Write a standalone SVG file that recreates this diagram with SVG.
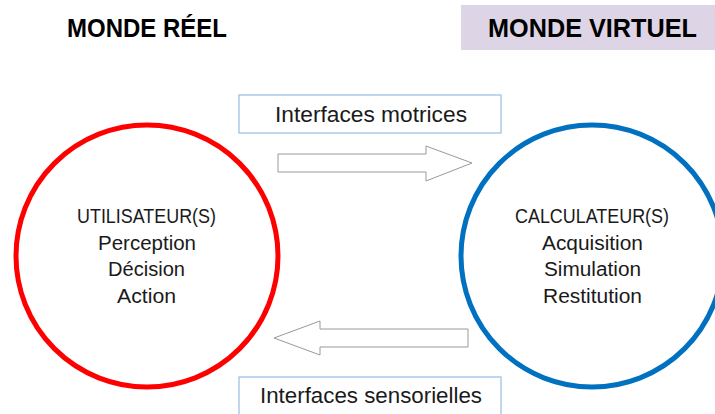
<svg xmlns="http://www.w3.org/2000/svg" width="715" height="414" viewBox="0 0 715 414">
<style>
.title{font-family:"Liberation Sans",Arial,sans-serif;font-weight:bold;font-size:25px;fill:#000}
.lbl{font-family:"Liberation Sans",Arial,sans-serif;font-size:19.5px;fill:#1a1a1a;text-anchor:middle}
.box{fill:#fff;stroke:#9dc3e6;stroke-width:1.3}
.boxt{font-family:"Liberation Sans",Arial,sans-serif;font-size:21.5px;fill:#1a1a1a}
.arrow{fill:#fff;stroke:#999;stroke-width:1}
</style>
<rect width="715" height="414" fill="#fff"/>
<g id="title-reel">
<text class="title" x="67" y="37" textLength="160" lengthAdjust="spacingAndGlyphs">MONDE RÉEL</text>
</g>
<g id="title-virtuel">
<rect x="461" y="5" width="254" height="45" fill="#ddd5e6"/>
<text class="title" x="488" y="37" textLength="209" lengthAdjust="spacingAndGlyphs">MONDE VIRTUEL</text>
</g>
<g id="utilisateurs">
<circle cx="147" cy="256" r="131" fill="#fff" stroke="#ff0000" stroke-width="5"/>
<text class="lbl" x="146.5" y="223" textLength="139" lengthAdjust="spacingAndGlyphs">UTILISATEUR(S)</text>
<text class="lbl" x="147" y="250" textLength="98" lengthAdjust="spacingAndGlyphs">Perception</text>
<text class="lbl" x="146.5" y="276" textLength="77" lengthAdjust="spacingAndGlyphs">Décision</text>
<text class="lbl" x="146.5" y="303" textLength="59" lengthAdjust="spacingAndGlyphs">Action</text>
</g>
<g id="calculateurs">
<circle cx="592" cy="256" r="131" fill="#fff" stroke="#0070c0" stroke-width="5"/>
<text class="lbl" x="592" y="223" textLength="154" lengthAdjust="spacingAndGlyphs">CALCULATEUR(S)</text>
<text class="lbl" x="592.5" y="250" textLength="101" lengthAdjust="spacingAndGlyphs">Acquisition</text>
<text class="lbl" x="592.5" y="276" textLength="97" lengthAdjust="spacingAndGlyphs">Simulation</text>
<text class="lbl" x="592.5" y="303" textLength="99" lengthAdjust="spacingAndGlyphs">Restitution</text>
</g>
<g id="interfaces-motrices">
<rect class="box" x="239" y="95" width="262" height="38"/>
<text class="boxt" x="275" y="122" textLength="192" lengthAdjust="spacingAndGlyphs">Interfaces motrices</text>
</g>
<g id="interfaces-sensorielles">
<rect class="box" x="239" y="377" width="262" height="40"/>
<text class="boxt" x="260" y="403" textLength="222" lengthAdjust="spacingAndGlyphs">Interfaces sensorielles</text>
</g>
<g id="connectors">
<path class="arrow" d="M278,154 H426 V146 L472,163 L426,181 V172 H278 Z"/>
<path class="arrow" d="M468,329 H320 V321 L274,338 L320,355 V347 H468 Z"/>
</g>
</svg>
